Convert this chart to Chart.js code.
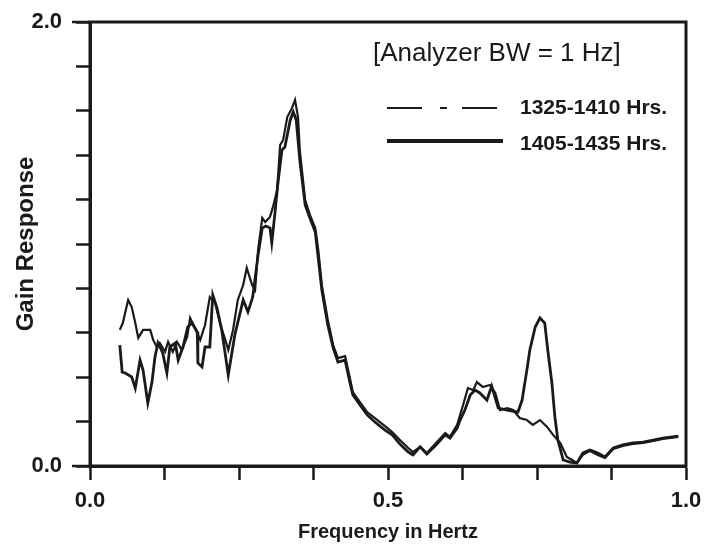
<!DOCTYPE html>
<html>
<head>
<meta charset="utf-8">
<script src="https://cdn.jsdelivr.net/npm/chart.js@4.4.1/dist/chart.umd.min.js"></script>
<style>
  html, body { margin: 0; padding: 0; background: #fff; }
</style>
</head>
<body>
<canvas id="myChart1" width="704" height="556"></canvas>
<script>
// series names and note
const seriesLabels = ['1325-1410 Hrs.', '1405-1435 Hrs.'];
const noteText = '[Analyzer BW = 1 Hz]';

// tick labels
const xTickValues = [0, 0.5, 1];
const xTickLabels = ['0.0', '0.5', '1.0'];
const yTickValues = [0, 2];
const yTickLabels = ['0.0', '2.0'];

// 1325-1410 Hrs. (thin)
const freqA = [0.050, 0.055, 0.064, 0.070, 0.076, 0.081, 0.089, 0.101, 0.106, 0.112, 0.117, 0.126, 0.131, 0.139, 0.146,
  0.154, 0.163, 0.168, 0.176, 0.185, 0.193, 0.201, 0.210, 0.218, 0.227, 0.232, 0.240, 0.248, 0.257, 0.263,
  0.272, 0.277, 0.282, 0.289, 0.294, 0.302, 0.307, 0.314, 0.319, 0.324, 0.331, 0.339, 0.344, 0.349, 0.352,
  0.361, 0.369, 0.378, 0.383, 0.389, 0.399, 0.408, 0.416, 0.428, 0.436, 0.441, 0.453, 0.465, 0.478, 0.495,
  0.507, 0.520, 0.534, 0.542, 0.554, 0.565, 0.579, 0.596, 0.604, 0.616, 0.626, 0.634, 0.643, 0.649, 0.659,
  0.671, 0.680, 0.688, 0.700, 0.710, 0.721, 0.733, 0.743, 0.755, 0.767, 0.777, 0.789, 0.800, 0.809, 0.817,
  0.827, 0.839, 0.852, 0.864, 0.878, 0.894, 0.911, 0.928, 0.945, 0.961, 0.987];
const gainA = [0.613, 0.644, 0.748, 0.716, 0.644, 0.577, 0.613, 0.613, 0.568, 0.536, 0.554, 0.514, 0.559, 0.514, 0.559,
  0.523, 0.581, 0.667, 0.622, 0.568, 0.635, 0.761, 0.734, 0.644, 0.568, 0.523, 0.613, 0.748, 0.815, 0.892,
  0.815, 0.793, 0.973, 1.117, 1.099, 1.122, 1.167, 1.243, 1.446, 1.468, 1.572, 1.613, 1.649, 1.572, 1.423,
  1.198, 1.131, 1.072, 0.973, 0.815, 0.658, 0.545, 0.486, 0.495, 0.396, 0.333, 0.288, 0.243, 0.216, 0.180,
  0.153, 0.117, 0.081, 0.063, 0.086, 0.059, 0.099, 0.149, 0.131, 0.185, 0.275, 0.351, 0.342, 0.378, 0.356,
  0.365, 0.329, 0.252, 0.261, 0.252, 0.216, 0.207, 0.185, 0.207, 0.176, 0.140, 0.104, 0.041, 0.027, 0.014,
  0.050, 0.068, 0.050, 0.036, 0.077, 0.090, 0.099, 0.104, 0.113, 0.122, 0.131];

// 1405-1435 Hrs. (thick)
const freqB = [0.050, 0.054, 0.059, 0.070, 0.076, 0.084, 0.089, 0.097, 0.104, 0.109, 0.114, 0.122, 0.129, 0.134, 0.143,
  0.148, 0.156, 0.164, 0.171, 0.180, 0.181, 0.188, 0.193, 0.201, 0.206, 0.213, 0.221, 0.232, 0.243, 0.257,
  0.265, 0.273, 0.282, 0.289, 0.295, 0.302, 0.305, 0.310, 0.315, 0.322, 0.327, 0.336, 0.341, 0.346, 0.352,
  0.361, 0.369, 0.378, 0.383, 0.389, 0.399, 0.408, 0.416, 0.428, 0.436, 0.441, 0.453, 0.465, 0.478, 0.495,
  0.507, 0.520, 0.534, 0.542, 0.554, 0.565, 0.579, 0.596, 0.604, 0.616, 0.621, 0.629, 0.638, 0.646, 0.654,
  0.666, 0.674, 0.685, 0.700, 0.718, 0.725, 0.733, 0.738, 0.747, 0.755, 0.763, 0.768, 0.775, 0.780, 0.785,
  0.794, 0.805, 0.817, 0.827, 0.839, 0.852, 0.864, 0.878, 0.894, 0.911, 0.928, 0.945, 0.961, 0.987];
const gainB = [0.545, 0.423, 0.419, 0.401, 0.351, 0.477, 0.432, 0.284, 0.378, 0.491, 0.554, 0.509, 0.419, 0.536, 0.554,
  0.477, 0.536, 0.626, 0.644, 0.604, 0.464, 0.446, 0.536, 0.536, 0.770, 0.712, 0.613, 0.410, 0.590, 0.748,
  0.694, 0.761, 0.950, 1.072, 1.081, 1.072, 1.005, 1.131, 1.266, 1.423, 1.437, 1.559, 1.595, 1.559, 1.378,
  1.176, 1.117, 1.054, 0.937, 0.793, 0.635, 0.532, 0.468, 0.477, 0.378, 0.320, 0.275, 0.230, 0.198, 0.162,
  0.140, 0.099, 0.063, 0.050, 0.086, 0.054, 0.090, 0.140, 0.126, 0.171, 0.207, 0.252, 0.320, 0.342, 0.329,
  0.297, 0.360, 0.261, 0.252, 0.243, 0.297, 0.432, 0.523, 0.626, 0.667, 0.644, 0.523, 0.374, 0.221, 0.117,
  0.027, 0.018, 0.014, 0.059, 0.072, 0.059, 0.041, 0.081, 0.095, 0.104, 0.108, 0.117, 0.126, 0.135];

const ink = '#1a1a1a';
const toPoints = (xs, ys) => xs.map((x, i) => ({ x: x, y: ys[i] }));

// frame box plus the note and legend drawn inside the plot
const framePlugin = {
  id: 'frame',
  afterDraw(chart) {
    const { ctx, chartArea: a } = chart;
    ctx.save();
    ctx.strokeStyle = ink;
    ctx.lineWidth = 3;
    ctx.strokeRect(a.left, a.top, a.right - a.left, a.bottom - a.top);

    // longer end ticks on the y axis
    ctx.lineWidth = 2.5;
    [a.top, a.bottom].forEach((y) => {
      ctx.beginPath();
      ctx.moveTo(a.left - 18, y);
      ctx.lineTo(a.left, y);
      ctx.stroke();
    });

    ctx.fillStyle = ink;
    ctx.textBaseline = 'middle';
    ctx.textAlign = 'left';
    ctx.font = '26px "Liberation Sans", Arial, sans-serif';
    ctx.fillText(noteText, 373, 54);

    const rows = [108, 141];
    chart.data.datasets.forEach((ds, i) => {
      ctx.beginPath();
      ctx.lineWidth = i === 0 ? 2 : 4;
      ctx.setLineDash(i === 0 ? [35, 18, 7, 15] : []);
      ctx.moveTo(387, rows[i]);
      ctx.lineTo(i === 0 ? 497 : 503, rows[i]);
      ctx.stroke();
      ctx.setLineDash([]);
      ctx.font = 'bold 21px "Liberation Sans", Arial, sans-serif';
      ctx.fillText(ds.label, 520, rows[i] + (i === 0 ? 0 : 3));
    });
    ctx.restore();
  }
};

const ctx = document.getElementById('myChart1').getContext('2d');
new Chart(ctx, {
  type: 'line',
  data: {
    datasets: [
      {
        label: seriesLabels[0],
        data: toPoints(freqA, gainA),
        borderColor: ink,
        borderWidth: 2.2,
        pointRadius: 0,
        tension: 0
      },
      {
        label: seriesLabels[1],
        data: toPoints(freqB, gainB),
        borderColor: ink,
        borderWidth: 2.8,
        pointRadius: 0,
        tension: 0
      }
    ]
  },
  options: {
    responsive: false,
    animation: false,
    layout: { padding: { top: 22, right: 18, left: 0, bottom: 0 } },
    plugins: {
      legend: { display: false },
      tooltip: { enabled: false }
    },
    scales: {
      x: {
        type: 'linear',
        min: 0,
        max: 1,
        afterFit: (s) => { s.height = 90; s.paddingLeft = 0; s.paddingRight = 0; },
        border: { display: true, color: ink, width: 3 },
        grid: { drawOnChartArea: false, drawTicks: true, tickLength: 14, tickWidth: 2.5, tickColor: ink },
        ticks: {
          stepSize: 0.125,
          autoSkip: false,
          maxRotation: 0,
          padding: 8,
          color: ink,
          font: { family: '"Liberation Sans", Arial, sans-serif', size: 22, weight: 'bold' },
          callback: (v) => {
            const i = xTickValues.findIndex((t) => Math.abs(t - v) < 1e-6);
            return i >= 0 ? xTickLabels[i] : '';
          }
        },
        title: {
          display: true,
          text: 'Frequency in Hertz',
          color: ink,
          padding: { top: 0, bottom: 12 },
          font: { family: '"Liberation Sans", Arial, sans-serif', size: 20, weight: 'bold' }
        }
      },
      y: {
        min: 0,
        max: 2,
        afterFit: (s) => { s.width = 90; s.paddingTop = 0; s.paddingBottom = 0; },
        border: { display: true, color: ink, width: 3 },
        grid: { drawOnChartArea: false, drawTicks: true, tickLength: 14, tickWidth: 2.5, tickColor: ink },
        ticks: {
          stepSize: 0.2,
          autoSkip: false,
          padding: 14,
          color: ink,
          font: { family: '"Liberation Sans", Arial, sans-serif', size: 22, weight: 'bold' },
          callback: (v) => {
            const i = yTickValues.findIndex((t) => Math.abs(t - v) < 1e-6);
            return i >= 0 ? yTickLabels[i] : '';
          }
        },
        title: {
          display: true,
          text: 'Gain Response',
          color: ink,
          padding: { top: 12, bottom: 0 },
          font: { family: '"Liberation Sans", Arial, sans-serif', size: 24, weight: 'bold' }
        }
      }
    }
  },
  plugins: [framePlugin]
});
</script>
</body>
</html>
